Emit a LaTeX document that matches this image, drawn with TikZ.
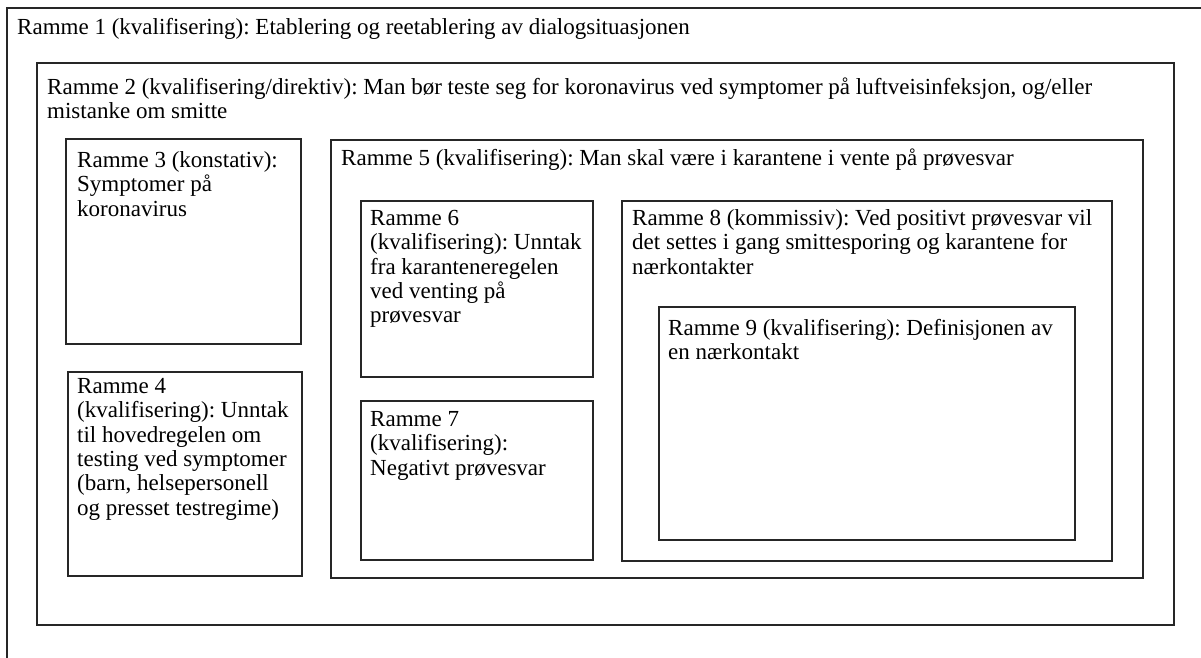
\documentclass[tikz,border=0pt]{standalone}
\usepackage{fontspec}
\setmainfont{Liberation Serif}
\begin{document}
\frenchspacing
\begin{tikzpicture}[x=1pt,y=-1pt,
  frame/.style={draw=black!85,line width=1.2pt},
  label/.style={anchor=north west,inner sep=0pt,align=left,
    font=\fontsize{23}{24.4}\selectfont\frenchspacing}]
\useasboundingbox (0,0) rectangle (1201,657);
\clip (0,0) rectangle (1201,657);
% frames
\draw[frame] (7,8) rectangle (1215,675);
\draw[frame] (37,63) rectangle (1174,625);
\draw[frame] (66,139) rectangle (301,344);
\draw[frame] (68,372) rectangle (302,576);
\draw[frame] (331,140) rectangle (1143,578);
\draw[frame] (361,201) rectangle (593,377);
\draw[frame] (361,401) rectangle (593,560);
\draw[frame] (622,201) rectangle (1112,561);
\draw[frame] (659,307) rectangle (1075,540);
% texts (top = first baseline - 20)
\node[label] (t1) at (17,14) {\rule{0pt}{20pt}Ramme 1 (kvalifisering): Etablering og reetablering av dialogsituasjonen};
\node[label] (t2) at (47,74) {\rule{0pt}{20pt}Ramme 2 (kvalifisering/direktiv): Man bør teste seg for koronavirus ved symptomer på luftveisinfeksjon, og/eller\\mistanke om smitte};
\node[label] (t3) at (77,147) {\rule{0pt}{20pt}Ramme 3 (konstativ):\\Symptomer på\\koronavirus};
\node[label] (t4) at (77,373) {\rule{0pt}{20pt}Ramme 4\\(kvalifisering): Unntak\\til hovedregelen om\\testing ved symptomer\\(barn, helsepersonell\\og presset testregime)};
\node[label] (t5) at (341,145) {\rule{0pt}{20pt}Ramme 5 (kvalifisering): Man skal være i karantene i vente på prøvesvar};
\node[label] (t6) at (370,205) {\rule{0pt}{20pt}Ramme 6\\(kvalifisering): Unntak\\fra karanteneregelen\\ved venting på\\prøvesvar};
\node[label] (t7) at (370,406) {\rule{0pt}{20pt}Ramme 7\\(kvalifisering):\\Negativt prøvesvar};
\node[label] (t8) at (632,205) {\rule{0pt}{20pt}Ramme 8 (kommissiv): Ved positivt prøvesvar vil\\det settes i gang smittesporing og karantene for\\nærkontakter};
\node[label] (t9) at (668,315) {\rule{0pt}{20pt}Ramme 9 (kvalifisering): Definisjonen av\\en nærkontakt};
\end{tikzpicture}
\end{document}
